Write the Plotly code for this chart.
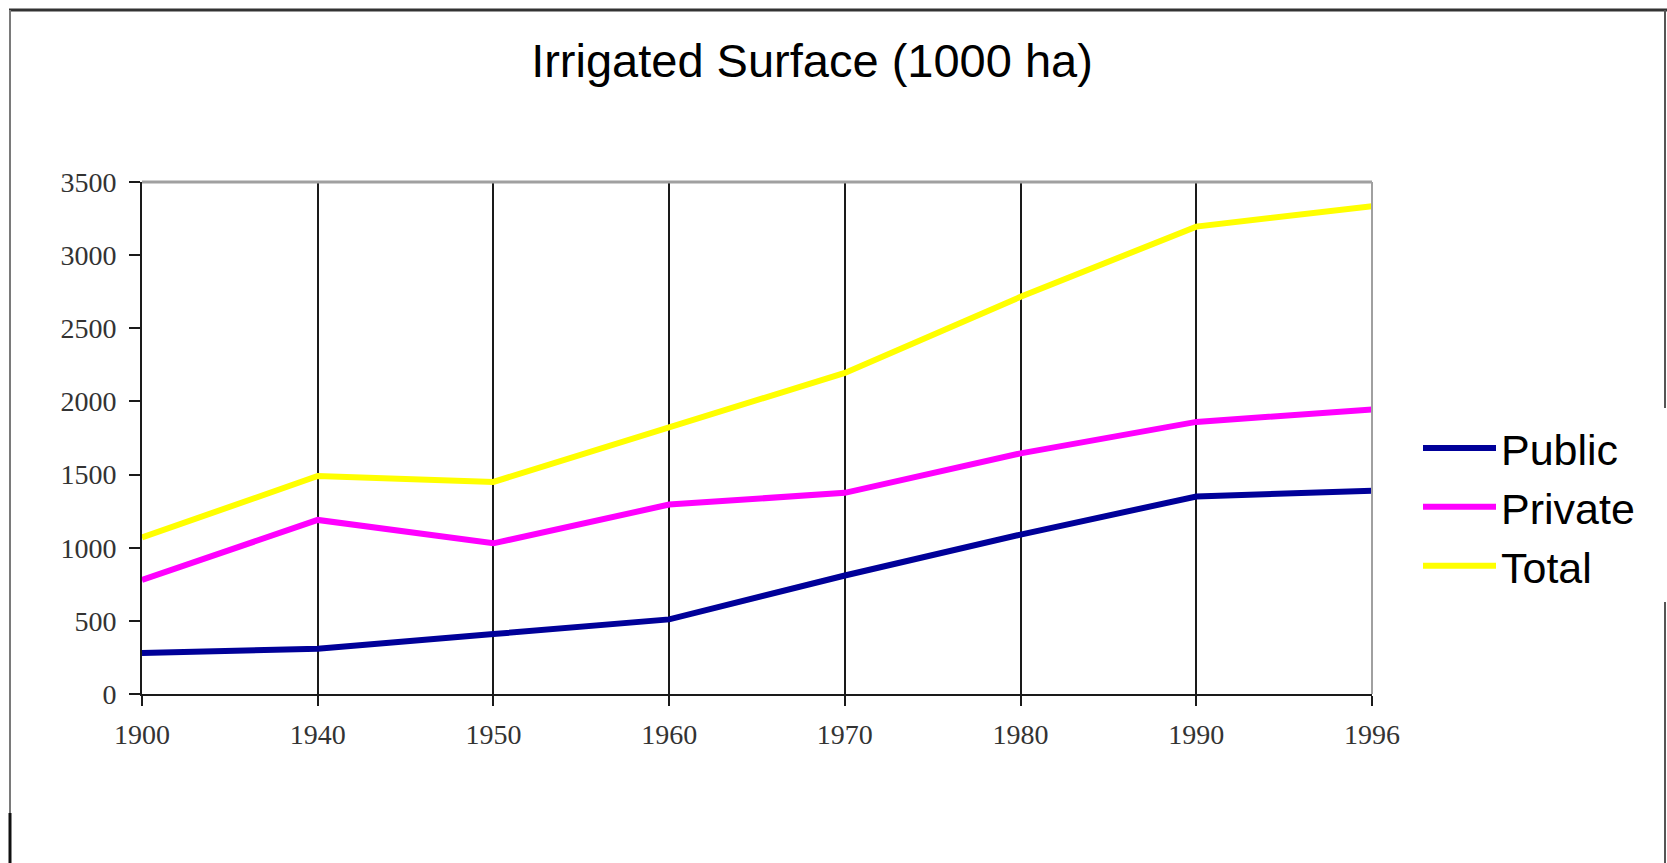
import plotly.graph_objects as go

years = ["1900", "1940", "1950", "1960", "1970", "1980", "1990", "1996"]
public = [280, 310, 410, 510, 810, 1090, 1350, 1390]
private = [780, 1190, 1030, 1295, 1375, 1645, 1860, 1945]
total = [1070, 1490, 1450, 1825, 2195, 2715, 3195, 3335]
y_ticks = [0, 500, 1000, 1500, 2000, 2500, 3000, 3500]

W, H = 1667, 863
L, R, T, B = 142, 1372, 182, 694  # plot area in pixels


def px_x(p):
    return (p - L) / (R - L)


def px_y(p):
    return (B - p) / (B - T)


fig = go.Figure()
fig.add_trace(go.Scatter(x=years, y=public, name="Public", mode="lines",
                         line=dict(color="#000099", width=6)))
fig.add_trace(go.Scatter(x=years, y=private, name="Private", mode="lines",
                         line=dict(color="#FF00FF", width=6)))
fig.add_trace(go.Scatter(x=years, y=total, name="Total", mode="lines",
                         line=dict(color="#FFFF00", width=6)))

tick_font = dict(family="Liberation Serif, Times New Roman, serif", size=28, color="#333333")

fig.update_layout(
    width=W, height=H,
    margin=dict(l=L, r=W - R, t=T, b=H - B, pad=0),
    paper_bgcolor="white", plot_bgcolor="white",
    title=dict(text="Irrigated Surface (1000 ha)", x=812 / W, xanchor="center",
               y=1 - 61 / H, yanchor="middle",
               font=dict(family="Liberation Sans, Arial, sans-serif", size=47, color="black")),
    showlegend=True,
    legend=dict(x=px_x(1418), xanchor="left", y=px_y(507), yanchor="middle",
                font=dict(family="Liberation Sans, Arial, sans-serif", size=43, color="black"),
                bgcolor="rgba(0,0,0,0)", borderwidth=0, tracegroupgap=0, itemwidth=73),
    xaxis=dict(type="category", range=[0, len(years) - 1], showgrid=True,
               gridcolor="#1a1a1a", gridwidth=2, showline=True, linecolor="#1a1a1a",
               linewidth=2, ticks="outside", ticklen=10, tickwidth=2, tickcolor="#1a1a1a",
               tickfont=tick_font, ticklabelstandoff=4, zeroline=False, fixedrange=True),
    yaxis=dict(range=[0, 3500], tickvals=y_ticks, showgrid=False, showline=True,
               linecolor="#1a1a1a", linewidth=2, ticks="outside", ticklen=11,
               tickwidth=2, tickcolor="#1a1a1a", tickfont=tick_font,
               ticklabelstandoff=7, zeroline=False, fixedrange=True),
)

shapes = [
    # gray top and right borders of the plot area
    dict(type="line", xref="paper", yref="paper", x0=0, x1=1, y0=1, y1=1,
         line=dict(color="#a0a0a0", width=3), layer="above"),
    dict(type="line", xref="paper", yref="paper", x0=1, x1=1, y0=0, y1=1,
         line=dict(color="#a0a0a0", width=2), layer="above"),
    # outer frame
    dict(type="line", xref="paper", yref="paper", x0=px_x(9), x1=px_x(1667), y0=px_y(10), y1=px_y(10),
         line=dict(color="#333333", width=3)),
    dict(type="line", xref="paper", yref="paper", x0=px_x(10), x1=px_x(10), y0=px_y(10), y1=px_y(813),
         line=dict(color="#7a7a7a", width=2)),
    dict(type="line", xref="paper", yref="paper", x0=px_x(10), x1=px_x(10), y0=px_y(813), y1=px_y(863),
         line=dict(color="#111111", width=3)),
    dict(type="line", xref="paper", yref="paper", x0=px_x(1665), x1=px_x(1665), y0=px_y(10), y1=px_y(408),
         line=dict(color="#555555", width=2)),
    dict(type="line", xref="paper", yref="paper", x0=px_x(1665), x1=px_x(1665), y0=px_y(602), y1=px_y(863),
         line=dict(color="#555555", width=2)),
]
fig.update_layout(shapes=shapes)

fig.write_html("out.html")
